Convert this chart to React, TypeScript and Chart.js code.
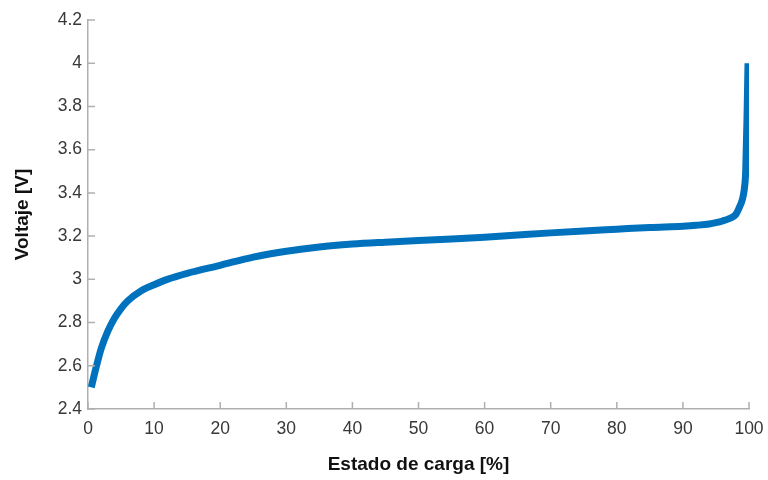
import React, { useEffect, useRef } from "react";
import { Chart, registerables } from "chart.js";

Chart.register(...registerables);

const soc = [0.5, 1, 1.5, 2, 3, 4, 5, 6, 8, 10, 12, 15, 20, 25, 30, 35, 40, 45, 50, 55, 60, 65, 70, 75, 80, 85, 90, 92, 94, 95, 96, 97, 98, 98.5, 99, 99.3, 99.5, 99.7, 99.85];
const voltage = [2.5, 2.565, 2.625, 2.68, 2.76, 2.82, 2.865, 2.9, 2.946, 2.975, 3.0, 3.028, 3.065, 3.103, 3.13, 3.15, 3.163, 3.172, 3.18, 3.187, 3.195, 3.205, 3.215, 3.224, 3.232, 3.24, 3.246, 3.25, 3.256, 3.262, 3.27, 3.281, 3.3, 3.33, 3.37, 3.42, 3.5, 3.75, 4.0];

const xTitle = "Estado de carga [%]";
const yTitle = "Voltaje [V]";
const xMin = 0, xMax = 100, xStep = 10;
const yMin = 2.4, yMax = 4.2, yStep = 0.2;

const AXIS_COLOR = "#b0b0b0";
const TEXT_COLOR = "#383838";
const LINE_COLOR = "#0072BD";

const innerTicks = {
  id: "innerTicks",
  afterDraw(chart: any) {
    const { ctx, chartArea } = chart;
    const xs = chart.scales.x;
    const ys = chart.scales.y;
    ctx.save();
    ctx.strokeStyle = AXIS_COLOR;
    ctx.lineWidth = 1.5;
    ctx.beginPath();
    xs.ticks.forEach((t: any) => {
      const px = xs.getPixelForValue(t.value);
      ctx.moveTo(px, chartArea.bottom);
      ctx.lineTo(px, chartArea.bottom - 7);
    });
    ys.ticks.forEach((t: any) => {
      const py = ys.getPixelForValue(t.value);
      ctx.moveTo(chartArea.left, py);
      ctx.lineTo(chartArea.left + 7, py);
    });
    ctx.stroke();
    ctx.restore();
  },
};

export default function App() {
  const ref = useRef<HTMLCanvasElement>(null);
  useEffect(() => {
    document.body.style.margin = "0";
    if (!ref.current) return;
    const chart = new Chart(ref.current, {
      type: "line",
      data: {
        datasets: [
          {
            data: soc.map((x, i) => ({ x, y: voltage[i] })),
            borderColor: LINE_COLOR,
            borderWidth: 7,
            pointRadius: 0,
            fill: false,
            cubicInterpolationMode: "monotone",
            borderCapStyle: "butt",
            borderJoinStyle: "round",
          },
        ],
      },
      options: {
        animation: false,
        responsive: true,
        maintainAspectRatio: false,
        layout: { padding: { top: 20, right: 19, left: 0, bottom: 0 } },
        plugins: { legend: { display: false }, tooltip: { enabled: false } },
        scales: {
          x: {
            type: "linear",
            min: xMin,
            max: xMax,
            afterFit: (s: any) => { s.height = 71; s.paddingRight = 0; s.paddingLeft = 0; },
            ticks: {
              stepSize: xStep,
              color: TEXT_COLOR,
              padding: 10,
              maxRotation: 0,
              font: { family: "'Liberation Sans', Arial, sans-serif", size: 17.5 },
            },
            grid: { display: true, drawOnChartArea: false, drawTicks: false },
            border: { display: true, color: AXIS_COLOR, width: 1.5 },
            title: {
              display: true,
              text: xTitle,
              color: "#111111",
              padding: { top: 0, bottom: 4 },
              font: { family: "'Liberation Sans', Arial, sans-serif", size: 19, weight: "bold" },
            },
          },
          y: {
            type: "linear",
            min: yMin,
            max: yMax,
            afterFit: (s: any) => { s.width = 88; s.paddingTop = 0; s.paddingBottom = 0; },
            ticks: {
              stepSize: yStep,
              color: TEXT_COLOR,
              padding: 6,
              font: { family: "'Liberation Sans', Arial, sans-serif", size: 17.5 },
              callback: (v: any) => String(Number(Number(v).toFixed(1))),
            },
            grid: { display: true, drawOnChartArea: false, drawTicks: false },
            border: { display: true, color: AXIS_COLOR, width: 1.5 },
            title: {
              display: true,
              text: yTitle,
              color: "#111111",
              padding: { top: 11, bottom: 0 },
              font: { family: "'Liberation Sans', Arial, sans-serif", size: 19, weight: "bold" },
            },
          },
        },
      },
      plugins: [innerTicks],
    } as any);
    return () => chart.destroy();
  }, []);
  return (
    <div style={{ position: "relative", width: 768, height: 480 }}>
      <canvas ref={ref} />
    </div>
  );
}
